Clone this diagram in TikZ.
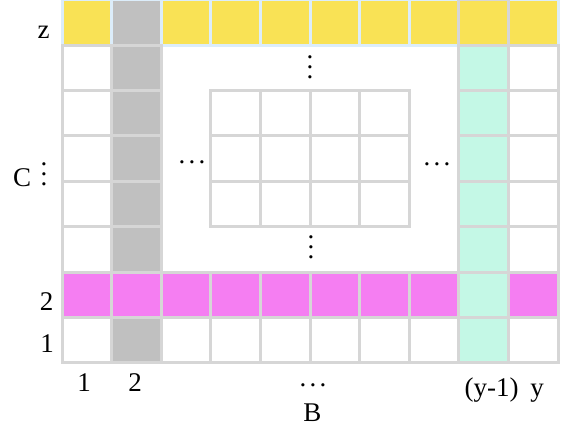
\documentclass[tikz,border=0pt]{standalone}
\usepackage{fontspec}
\setmainfont{Liberation Serif}
\usepackage{tikz}
\definecolor{cellline}{RGB}{214,214,214}
\definecolor{topblue}{RGB}{220,237,250}
\definecolor{colgray}{RGB}{192,192,192}
\definecolor{rowpink}{RGB}{245,126,242}
\definecolor{colmint}{RGB}{196,248,230}
\definecolor{rowyellow}{RGB}{249,226,85}
\tikzstyle{cell}=[draw=cellline, line width=3pt, minimum width=49.6pt,
  minimum height=45.4pt, inner sep=0pt]
\tikzstyle{wcell} = [cell, fill=white]
\tikzstyle{gcell} = [cell, fill=colgray]
\tikzstyle{pcell} = [cell, fill=rowpink]
\tikzstyle{mcell} = [cell, fill=colmint]
\tikzstyle{ycell} = [cell, fill=rowyellow, draw=topblue]
\tikzstyle{lbl} = [font=\fontsize{27}{32}\selectfont, inner sep=0pt,
  anchor=base]
\tikzstyle{dots} = [font=\fontsize{27}{32}\selectfont, inner sep=0pt]
\newcommand{\gridcell}[2]{node (c#1) [#2] {}}
\newcommand{\vdotsx}{\vbox{\baselineskip=10pt\lineskiplimit=-100pt
  \hbox{.}\hbox{.}\hbox{.}}}
\newcommand{\hdotsx}{\hbox{.\kern3.25pt.\kern3.25pt.}}

\begin{document}
\begin{tikzpicture}[x=49.6pt,y=45.4pt]
    \useasboundingbox (-1.25,-1.542) rectangle (10.181,7.995);

    % Draw top row
    \foreach \i in {1,3,4,5,6,7,8,10}
      \path (\i-0.5,7.5) \gridcell{\i-8}{ycell};
    \path (1.5,7.5) \gridcell{2-8}{gcell, draw=topblue};

    % Draw side columns and bottom rows
    \foreach \j in {1,3,4,5,6,7} {
      \path (0.5,\j-0.5) \gridcell{1-\j}{wcell};
      \path (1.5,\j-0.5) \gridcell{2-\j}{gcell};
      \path (9.5,\j-0.5) \gridcell{10-\j}{wcell};
    }
    \foreach \i in {1,...,8,10}
      \path (\i-0.5,1.5) \gridcell{\i-2}{pcell};
    \foreach \i in {3,...,8}
      \path (\i-0.5,0.5) \gridcell{\i-1}{wcell};
    % Draw inner block
    \foreach \i in {4,...,7}
      \foreach \j in {4,5,6}
        \path (\i-0.5,\j-0.5) \gridcell{\i-\j}{wcell};
    % Draw column (y-1)
    \foreach \j in {1,...,7}
      \path (8.5,\j-0.5) \gridcell{9-\j}{mcell};
    \path (8.5,7.5) \gridcell{9-8}{cell, fill=rowyellow};

    % Draw dots
    \path (5.0,6.52) node (dtop) [dots] {\vdotsx};
    \path (5.02,2.555) node (dbot) [dots] {\vdotsx};
    \path (2.62,4.427) node (dleft) [dots] {\hdotsx};
    \path (7.56,4.383) node (dright) [dots] {\hdotsx};

    % Draw labels
    \path (-0.373,7.137) node (lz) [lbl] {z};
    \path (-0.806,3.877) node (lc) [lbl] {C};
    \path (-0.363,4.163) node (lcdots) [dots] {\vdotsx};
    \path (-0.3125,1.167) node (l2) [lbl] {2};
    \path (-0.302,0.220) node (l1) [lbl] {1};
    \path (0.444,-0.639) node (b1) [lbl] {1};
    \path (1.472,-0.639) node (b2) [lbl] {2};
    \path (5.06,-0.485) node (bdots) [dots] {\hdotsx};
    \path (5.05,-1.293) node (bb) [lbl] {B};
    \path (8.66,-0.749) node (by1) [lbl] {(y-1)};
    \path (9.577,-0.749) node (by) [lbl] {y};

  \end{tikzpicture}
\end{document}
